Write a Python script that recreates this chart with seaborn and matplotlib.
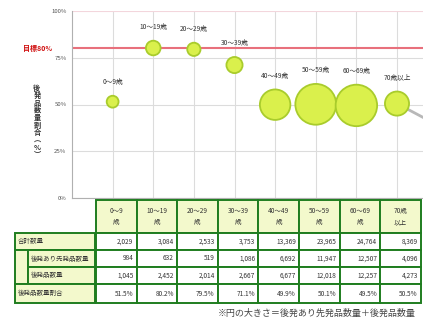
import matplotlib
matplotlib.use("Agg")
import matplotlib.pyplot as plt
import matplotlib.transforms as mtransforms
from matplotlib.patches import Rectangle
import seaborn as sns
import pandas as pd
import numpy as np

# ---- data -------------------------------------------------------------
age_groups = ["0～9歳", "10～19歳", "20～29歳", "30～39歳",
              "40～49歳", "50～59歳", "60～69歳", "70歳以上"]
header_labels = ["0～9\n歳", "10～19\n歳", "20～29\n歳", "30～39\n歳",
                 "40～49\n歳", "50～59\n歳", "60～69\n歳", "70歳\n以上"]
total_qty = [2029, 3084, 2533, 3753, 13369, 23965, 24764, 8369]
brand_qty = [984, 632, 519, 1086, 6692, 11947, 12507, 4096]
generic_qty = [1045, 2452, 2014, 2667, 6677, 12018, 12257, 4273]
generic_ratio = [51.5, 80.2, 79.5, 71.1, 49.9, 50.1, 49.5, 50.5]
target_ratio = 80
y_ticks = [0, 25, 50, 75, 100]
row_labels = ["合計数量", "後発あり先発品数量", "後発品数量", "後発品数量割合"]
footnote = "※円の大きさ＝後発あり先発品数量＋後発品数量"

df = pd.DataFrame({"age": age_groups, "ratio": generic_ratio, "total": total_qty})

# ---- style ------------------------------------------------------------
sns.set_theme(style="white")
plt.rcParams["font.family"] = ["Noto Sans CJK JP", "DejaVu Sans"]

W, H = 423, 321
fig = plt.figure(figsize=(W / 100, H / 100), dpi=100)
fig.patch.set_facecolor("white")

def fx(px):
    return px / W

def fy(px):
    return 1 - px / H

ax = fig.add_axes([fx(72), fy(198), 1 - fx(72), fy(11) - fy(198)])

fill = "#daf04c"
edge = "#a9cc2c"
size_scale = 0.036  # marker area (pt^2) per unit of quantity
sns.scatterplot(data=df, x="age", y="ratio", size="total",
                sizes=(0, size_scale * 25000), size_norm=(0, 25000),
                color=fill, edgecolor=edge, linewidth=1.3, alpha=1,
                legend=False, ax=ax, zorder=4)

ax.set_xlim(-1.0, 7.64)
ax.set_ylim(0, 100)
ax.set_yticks(y_ticks)
ax.set_yticklabels([f"{v}%" for v in y_ticks], fontsize=4.3, color="#555555")
ax.tick_params(axis="y", length=0, pad=4)
ax.tick_params(axis="x", length=0, labelbottom=False)
ax.set_xlabel("")
ax.set_ylabel("")
ax.grid(True, axis="both", color="#dcdcdc", linewidth=0.8)
ax.set_axisbelow(True)
ax.get_ygridlines()[-1].set_color("#f3d6dc")
for s in ["top", "right"]:
    ax.spines[s].set_visible(False)
for s in ["left", "bottom"]:
    ax.spines[s].set_color("#b0b0b0")
    ax.spines[s].set_linewidth(0.8)

# target line
ax.axhline(target_ratio, color="#e8707c", linewidth=1.5, zorder=2)
ax.text(-0.057, target_ratio, "目標80%",
        transform=mtransforms.blended_transform_factory(ax.transAxes, ax.transData),
        ha="right", va="center", fontsize=5, color="#d01010", fontweight="bold")

# bubble labels
for i, (lab, r, t) in enumerate(zip(age_groups, generic_ratio, total_qty)):
    rad_pt = np.sqrt(size_scale * t) / 2
    ax.annotate(lab, (i, r), xytext=(0, rad_pt + 10), textcoords="offset points",
                ha="center", va="center", fontsize=4.8, color="#333333", zorder=5)

# leader line from the last bubble
last = len(age_groups) - 1
ax.annotate("", xy=(last, generic_ratio[last]), xytext=(32, -17), textcoords="offset points",
            arrowprops=dict(arrowstyle="-", color="#b8b8b8", lw=2.0, shrinkA=0,
                            shrinkB=np.sqrt(size_scale * total_qty[last]) / 2),
            zorder=3, annotation_clip=False)

# y label (stacked vertical text)
ylabel_chars = list("後発品数量割合") + ["︵", "%", "︶"]
fig.text(fx(37), fy(121), "\n".join(ylabel_chars), ha="center", va="center",
         fontsize=5.2, linespacing=1.05, color="#333333", fontweight="bold")

# ---- table ------------------------------------------------------------
green = "#1f7d1f"
cream = "#f3f9cc"
txt = "#333333"
tdata = mtransforms.blended_transform_factory(ax.transData, fig.transFigure)
tfig = fig.transFigure
rows_px = [200, 233, 250, 267, 284, 303]
col_off = 0.09

def rect(x0, y0px, w, y1px, trans, fc):
    r = Rectangle((x0, fy(y1px)), w, fy(y0px) - fy(y1px), transform=trans,
                  facecolor=fc, edgecolor=green, linewidth=1.4)
    fig.add_artist(r)

# header row
for i, lab in enumerate(header_labels):
    x0 = i - 0.5 + col_off
    rect(x0, rows_px[0], 1.0, rows_px[1], tdata, cream)
    fig.text(i + col_off, fy((rows_px[0] + rows_px[1]) / 2), lab, transform=tdata,
             ha="center", va="center", fontsize=4.7, color=txt, linespacing=1.6)

# row label column
rect(fx(15), rows_px[1], fx(95) - fx(15), rows_px[2], tfig, cream)
rect(fx(15), rows_px[2], fx(28) - fx(15), rows_px[4], tfig, cream)
rect(fx(28), rows_px[2], fx(95) - fx(28), rows_px[3], tfig, cream)
rect(fx(28), rows_px[3], fx(95) - fx(28), rows_px[4], tfig, cream)
rect(fx(15), rows_px[4], fx(95) - fx(15), rows_px[5], tfig, cream)
label_x = [18, 31, 31, 18]
for k, lab in enumerate(row_labels):
    fig.text(fx(label_x[k]), fy((rows_px[k + 1] + rows_px[k + 2]) / 2), lab,
             ha="left", va="center", fontsize=4.7, color=txt)

# data cells
row_values = [
    [f"{v:,}" for v in total_qty],
    [f"{v:,}" for v in brand_qty],
    [f"{v:,}" for v in generic_qty],
    [f"{v:.1f}%" for v in generic_ratio],
]
for k, vals in enumerate(row_values):
    y0, y1 = rows_px[k + 1], rows_px[k + 2]
    for i, v in enumerate(vals):
        x0 = i - 0.5 + col_off
        rect(x0, y0, 1.0, y1, tdata, "white")
        fig.text(x0 + 0.92, fy((y0 + y1) / 2), v, transform=tdata,
                 ha="right", va="center", fontsize=4.7, color=txt)

fig.text(fx(218), fy(313), footnote, ha="left", va="center", fontsize=6.5, color="#444444")

fig.savefig("out.png", dpi=100, facecolor="white")
